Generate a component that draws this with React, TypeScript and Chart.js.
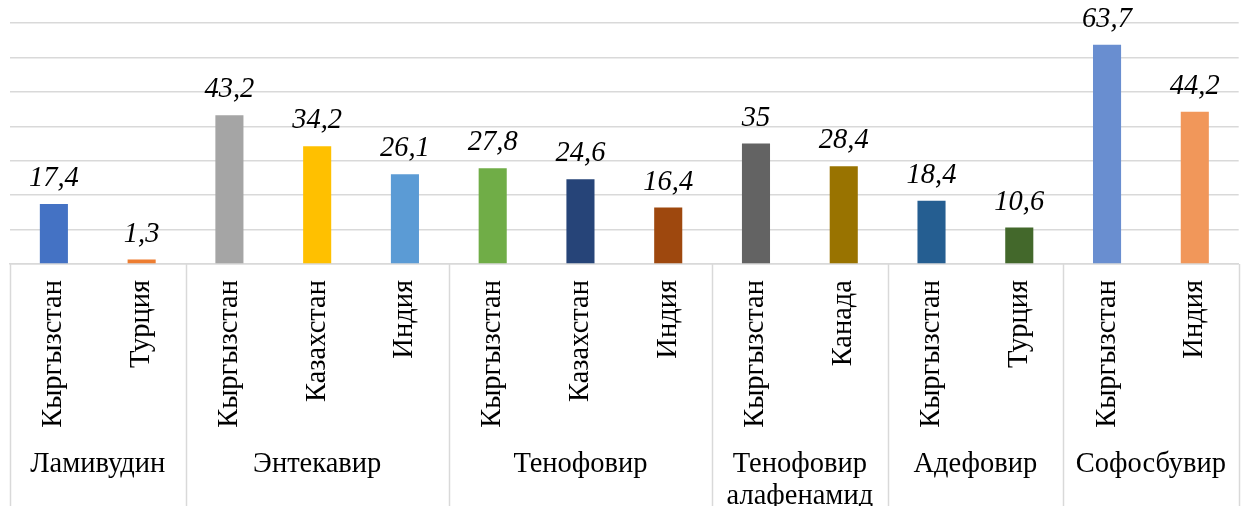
import React, { useEffect, useRef } from "react";
import { Chart, registerables } from "chart.js";

Chart.register(...registerables);

const countries = [
  "Кыргызстан", "Турция",
  "Кыргызстан", "Казахстан", "Индия",
  "Кыргызстан", "Казахстан", "Индия",
  "Кыргызстан", "Канада",
  "Кыргызстан", "Турция",
  "Кыргызстан", "Индия",
];
const values = [17.4, 1.3, 43.2, 34.2, 26.1, 27.8, 24.6, 16.4, 35, 28.4, 18.4, 10.6, 63.7, 44.2];
const valueLabels = ["17,4", "1,3", "43,2", "34,2", "26,1", "27,8", "24,6", "16,4", "35", "28,4", "18,4", "10,6", "63,7", "44,2"];
const groups = [
  { name: ["Ламивудин"], count: 2 },
  { name: ["Энтекавир"], count: 3 },
  { name: ["Тенофовир"], count: 3 },
  { name: ["Тенофовир", "алафенамид"], count: 2 },
  { name: ["Адефовир"], count: 2 },
  { name: ["Софосбувир"], count: 2 },
];
const barColors = [
  "#4472C4", "#ED7D31", "#A5A5A5", "#FFC000", "#5B9BD5", "#70AD47", "#264478",
  "#9E480E", "#636363", "#997300", "#255E91", "#43682B", "#698ED0", "#F1975A",
];

const FONT = "'Liberation Serif', 'Times New Roman', serif";
const GRID = "#d9d9d9";

const overlayPlugin = {
  id: "overlay",
  afterDatasetsDraw(chart: any) {
    const ctx = chart.ctx;
    const meta = chart.getDatasetMeta(0);
    ctx.save();
    ctx.font = `italic 28.5px ${FONT}`;
    ctx.fillStyle = "#000";
    ctx.textAlign = "center";
    ctx.textBaseline = "alphabetic";
    meta.data.forEach((bar: any, i: number) => {
      ctx.fillText(valueLabels[i], bar.x, bar.y - 18);
    });
    ctx.restore();
  },
  afterDraw(chart: any) {
    const ctx = chart.ctx;
    const xs = chart.scales.x;
    const area = chart.chartArea;
    const H = chart.height;
    ctx.save();
    ctx.strokeStyle = GRID;
    ctx.lineWidth = 1.5;
    let idx = 0;
    const bounds: number[] = [area.left];
    groups.forEach((g) => {
      idx += g.count;
      if (idx < countries.length) {
        bounds.push((xs.getPixelForValue(idx - 1) + xs.getPixelForValue(idx)) / 2);
      } else {
        bounds.push(area.right);
      }
    });
    bounds.forEach((b) => {
      ctx.beginPath();
      ctx.moveTo(Math.round(b) + 0.5, area.bottom);
      ctx.lineTo(Math.round(b) + 0.5, H);
      ctx.stroke();
    });
    ctx.font = `28.5px ${FONT}`;
    ctx.fillStyle = "#000";
    ctx.textAlign = "center";
    ctx.textBaseline = "middle";
    groups.forEach((g, gi) => {
      const cx = (bounds[gi] + bounds[gi + 1]) / 2;
      g.name.forEach((line, li) => {
        ctx.fillText(line, cx, 465 + li * 32);
      });
    });
    ctx.restore();
  },
};

export default function App() {
  const ref = useRef<HTMLCanvasElement | null>(null);
  useEffect(() => {
    if (!ref.current) return;
    const chart = new Chart(ref.current, {
      type: "bar",
      data: {
        labels: countries,
        datasets: [
          {
            data: values,
            backgroundColor: barColors,
            barPercentage: 0.32,
            categoryPercentage: 1,
          },
        ],
      },
      options: {
        animation: false,
        responsive: true,
        maintainAspectRatio: false,
        layout: { padding: { left: 10, right: 0, top: 23, bottom: 0 } },
        plugins: {
          legend: { display: false },
          tooltip: { enabled: false },
        },
        scales: {
          x: {
            grid: { display: false, drawTicks: false },
            border: { display: true, color: GRID, width: 1.5 },
            ticks: {
              maxRotation: 90,
              minRotation: 90,
              autoSkip: false,
              padding: 16,
              color: "#000",
              font: { family: FONT, size: 28.5 },
            },
            afterFit(scale: any) {
              scale.height = 242;
            },
          },
          y: {
            min: 0,
            max: 70,
            ticks: { display: false, stepSize: 10 },
            grid: { color: GRID, lineWidth: 1.5, drawTicks: false },
            border: { display: false },
            afterFit(scale: any) {
              scale.width = 0;
            },
          },
        },
      },
      plugins: [overlayPlugin],
    });
    return () => chart.destroy();
  }, []);
  return (
    <div style={{ position: "absolute", left: 0, top: 0, width: 1245, height: 506, background: "#fff" }}>
      <canvas ref={ref} />
    </div>
  );
}
